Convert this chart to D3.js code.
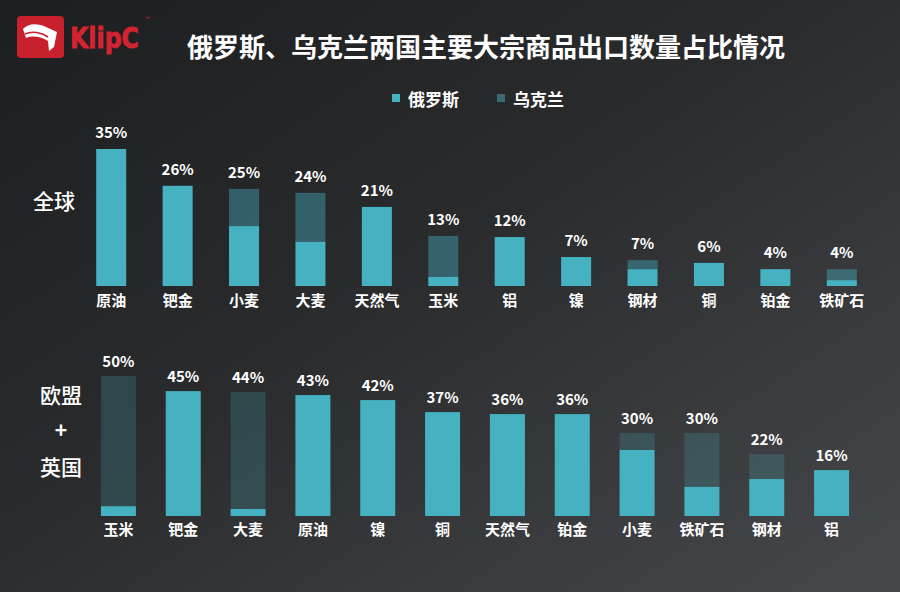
<!DOCTYPE html>
<html>
<head>
<meta charset="utf-8">
<script src="https://cdn.jsdelivr.net/npm/d3@7"></script>
<style>
  html, body { margin: 0; padding: 0; background: #27282a; }
  svg { display: block; }
</style>
</head>
<body>
<svg id="chart" width="900" height="592"></svg>
<script>
// ---------- data ----------
const titleText = "俄罗斯、乌克兰两国主要大宗商品出口数量占比情况";
const seriesNames = ["俄罗斯", "乌克兰"];

const globalCategories = ["原油", "钯金", "小麦", "大麦", "天然气", "玉米", "铝", "镍", "钢材", "铜", "铂金", "铁矿石"];
const globalRussia  = [35, 25.6, 15.3, 11.3, 20.2, 2.3, 12.5, 7.4, 4.3, 5.9, 4.3, 1.5];
const globalUkraine = [0, 0, 9.5, 12.5, 0, 10.5, 0, 0, 2.3, 0, 0, 2.8];
const globalLabels  = ["35%", "26%", "25%", "24%", "21%", "13%", "12%", "7%", "7%", "6%", "4%", "4%"];

const euCategories = ["玉米", "钯金", "大麦", "原油", "镍", "铜", "天然气", "铂金", "小麦", "铁矿石", "钢材", "铝"];
const euRussia  = [3.5, 44.6, 2.5, 43.2, 41.4, 37.1, 36.4, 36.4, 23.6, 10.4, 13.2, 16.4];
const euUkraine = [46.5, 0, 41.8, 0, 0, 0, 0, 0, 6, 19.2, 8.9, 0];
const euLabels  = ["50%", "45%", "44%", "43%", "42%", "37%", "36%", "36%", "30%", "30%", "22%", "16%"];

// ---------- style ----------
const FONT = "'Noto Sans CJK SC', 'Noto Sans', sans-serif";
const teal = "#46b1c1";
const svg = d3.select("#chart");
const W = 900, H = 592;

const defs = svg.append("defs");
const grad = defs.append("linearGradient").attr("id", "bg")
  .attr("x1", 0).attr("y1", 0).attr("x2", 1).attr("y2", 1);
grad.append("stop").attr("offset", "0%").attr("stop-color", "#1d1e20");
grad.append("stop").attr("offset", "45%").attr("stop-color", "#2a2b2d");
grad.append("stop").attr("offset", "100%").attr("stop-color", "#47484b");
svg.append("rect").attr("width", W).attr("height", H).attr("fill", "url(#bg)");

// ---------- logo ----------
const logo = svg.append("g");
logo.append("rect").attr("x", 17).attr("y", 16).attr("width", 47).attr("height", 42)
  .attr("rx", 4).attr("fill", "#c9202e");
logo.append("path")
  .attr("d", "M23,29 C28,23 38,23 46,27 L57,32 L54,47 L49,51 L48,41 C42,37 33,35 26,38 Z")
  .attr("fill", "#ffffff");
logo.append("path")
  .attr("d", "M25,34 C32,31 41,32 48,37")
  .attr("stroke", "#c9202e").attr("stroke-width", 1.6).attr("fill", "none");
logo.append("text").attr("x", 70).attr("y", 48)
  .attr("fill", "#d42331").attr("stroke", "#d42331").attr("stroke-width", 0.9)
  .attr("font-size", 28).attr("font-weight", 700)
  .style("font-family", "'DejaVu Sans', Verdana, sans-serif")
  .attr("textLength", 69).attr("lengthAdjust", "spacingAndGlyphs")
  .text("KlipC");
logo.append("text").attr("x", 145).attr("y", 21)
  .attr("fill", "#d42331").attr("font-size", 6).style("font-family", FONT).text("™");

// ---------- title ----------
svg.append("text").attr("x", 486).attr("y", 57).attr("text-anchor", "middle")
  .attr("fill", "#ffffff").attr("font-size", 26).attr("font-weight", 700)
  .style("font-family", FONT)
  .text(titleText);

// ---------- legend ----------
const legendX = [392, 497];
const legendColors = [teal, "#3b6a70"];
seriesNames.forEach((n, i) => {
  svg.append("rect").attr("x", legendX[i]).attr("y", 94).attr("width", 8).attr("height", 8)
    .attr("fill", legendColors[i]);
  svg.append("text").attr("x", legendX[i] + 16).attr("y", 106)
    .attr("fill", "#ffffff").attr("font-size", 17).attr("font-weight", 700)
    .style("font-family", FONT).text(n);
});

// ---------- side labels ----------
svg.append("text").attr("x", 54).attr("y", 209).attr("text-anchor", "middle")
  .attr("fill", "#ffffff").attr("font-size", 21).attr("font-weight", 500)
  .style("font-family", FONT).text("全球");
const sideEU = ["欧盟", "+", "英国"];
const sideY = [403, 438, 475];
sideEU.forEach((t, i) => {
  svg.append("text").attr("x", 61).attr("y", sideY[i]).attr("text-anchor", "middle")
    .attr("fill", "#ffffff").attr("font-size", 21).attr("font-weight", i === 1 ? 700 : 500)
    .style("font-family", FONT).text(t);
});

// ---------- panel drawing ----------
function drawPanel(cfg) {
  const x = d3.scaleBand().domain(cfg.categories).range(cfg.xRange)
    .paddingInner(cfg.padInner).paddingOuter(cfg.padInner / 2);
  const y = d3.scaleLinear().domain(cfg.yDomain).range(cfg.yRange);
  const rows = cfg.categories.map((c, i) => ({
    cat: c, ru: cfg.russia[i], ua: cfg.ukraine[i], label: cfg.labels[i]
  }));
  const stack = d3.stack().keys(["ru", "ua"])(rows);
  const g = svg.append("g");
  const opac = [1, cfg.uaOpacity];
  stack.forEach((layer, li) => {
    g.selectAll(null).data(layer.filter(d => d[1] - d[0] > 0)).join("rect")
      .attr("x", d => x(d.data.cat))
      .attr("width", x.bandwidth())
      .attr("y", d => y(d[1]))
      .attr("height", d => y(d[0]) - y(d[1]))
      .attr("fill", teal)
      .attr("fill-opacity", opac[li]);
  });
  // value labels
  g.selectAll(null).data(rows).join("text")
    .attr("x", d => x(d.cat) + x.bandwidth() / 2)
    .attr("y", d => y(d.ru + d.ua) - cfg.labelGap)
    .attr("text-anchor", "middle")
    .attr("fill", "#ffffff").attr("font-size", 15).attr("font-weight", 700)
    .style("font-family", FONT)
    .text(d => d.label);
  // category axis (no line/ticks)
  const axis = g.append("g").attr("transform", `translate(0,${cfg.yRange[0]})`)
    .call(d3.axisBottom(x).tickSize(0).tickPadding(cfg.catPad));
  axis.select(".domain").remove();
  axis.selectAll("text")
    .attr("fill", "#ffffff").attr("font-size", 15).attr("font-weight", 700)
    .style("font-family", FONT);
}

drawPanel({
  categories: globalCategories, russia: globalRussia, ukraine: globalUkraine, labels: globalLabels,
  xRange: [78, 875], padInner: 0.548, yDomain: [0, 35], yRange: [286, 149],
  uaOpacity: 0.42, labelGap: 11, catPad: 9
});

drawPanel({
  categories: euCategories, russia: euRussia, ukraine: euUkraine, labels: euLabels,
  xRange: [86, 864], padInner: 0.46, yDomain: [0, 50], yRange: [516, 376],
  uaOpacity: 0.22, labelGap: 9, catPad: 8
});
</script>
</body>
</html>
